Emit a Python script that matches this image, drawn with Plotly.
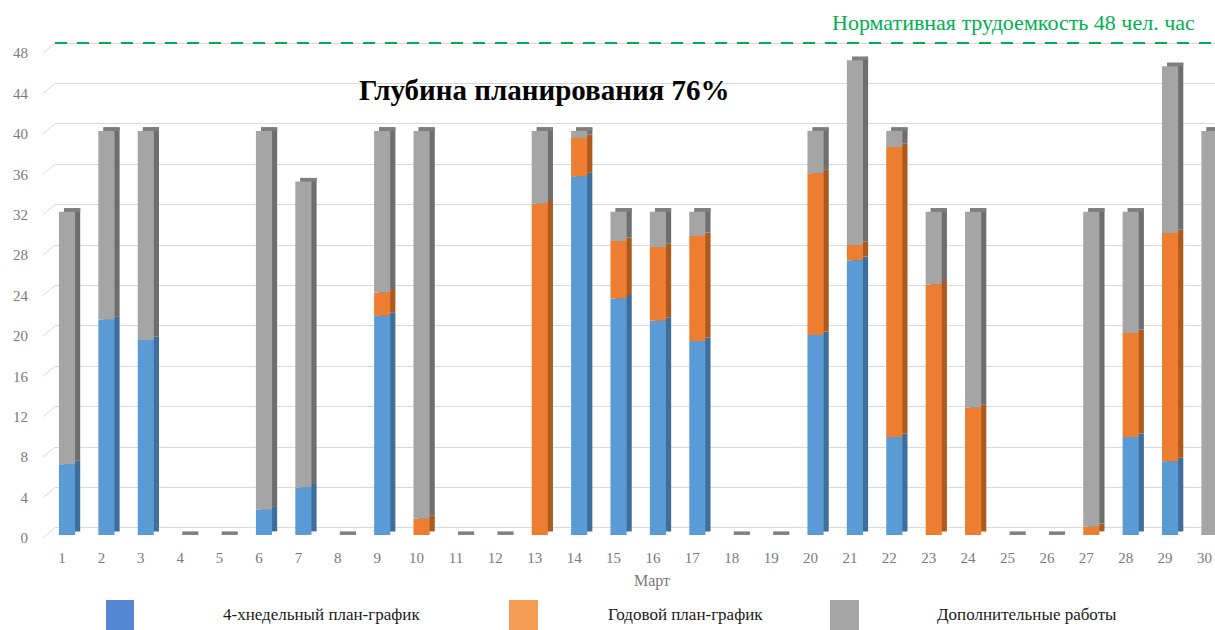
import plotly.graph_objects as go

# Daily labour hours in March, split by source of the work
days = list(range(1, 31))
four_week = [7, 21.3, 19.3, 0, 0, 2.5, 4.7, 0, 21.7, 0,
             0, 0, 0, 35.5, 23.4, 21.2, 19.2, 0, 0, 19.8,
             27.2, 9.7, 0, 0, 0, 0, 0, 9.7, 7.3, 0]
annual = [0, 0, 0, 0, 0, 0, 0, 0, 2.3, 1.6,
          0, 0, 32.8, 3.8, 5.7, 7.3, 10.4, 0, 0, 16,
          1.5, 28.7, 24.8, 12.6, 0, 0, 0.8, 10.3, 22.6, 0]
extra = [25, 18.7, 20.7, 0, 0, 37.5, 30.3, 0, 16, 38.4,
         0, 0, 7.2, 0.7, 2.9, 3.5, 2.4, 0, 0, 4.2,
         18.3, 1.6, 7.2, 19.4, 0, 0, 31.2, 12, 16.5, 40]
norm_hours = 48
y_ticks = list(range(0, 49, 4))

series_names = ["4-хнедельный план-график", "Годовой план-график", "Дополнительные работы"]
series_values = [four_week, annual, extra]
front_colors = ["#5B9BD5", "#ED7D31", "#A5A5A5"]
side_colors = ["#3D6E9C", "#AD5A1F", "#6E6E6E"]
legend_colors = ["#5486D4", "#F59D56", "#A5A5A5"]

BAR_W = 0.41     # width of the bar front face, in category units
DEPTH_X = 0.13   # horizontal depth of the pseudo-3D box
DEPTH_Y = 0.35   # vertical depth of the pseudo-3D box

# stacked bases
bases = []
running = [0.0] * len(days)
for vals in series_values:
    bases.append(list(running))
    running = [r + v for r, v in zip(running, vals)]
totals = running

fig = go.Figure()

# invisible trace that carries the grid axis (back wall of the 3D chart)
fig.add_trace(go.Scatter(x=[days[0]], y=[0], yaxis="y2", mode="markers",
                         marker=dict(opacity=0), hoverinfo="skip", showlegend=False))

# side faces: each segment shifted back and up
for vals, base, col in zip(series_values, bases, side_colors):
    fig.add_trace(go.Bar(
        x=days, y=vals, base=[b + DEPTH_Y for b in base],
        width=BAR_W, offset=-BAR_W / 2 + DEPTH_X,
        marker=dict(color=col, line=dict(width=0)),
        hoverinfo="skip", showlegend=False))

# top faces
fig.add_trace(go.Bar(
    x=days, y=[DEPTH_Y] * len(days), base=totals,
    width=BAR_W, offset=-BAR_W / 2 + DEPTH_X,
    marker=dict(color="#7F7F7F", line=dict(width=0)),
    hoverinfo="skip", showlegend=False))

# front faces
for name, vals, base, col in zip(series_names, series_values, bases, front_colors):
    fig.add_trace(go.Bar(
        x=days, y=vals, base=base, name=name,
        width=BAR_W, offset=-BAR_W / 2,
        marker=dict(color=col, line=dict(width=0)),
        showlegend=False))

PLOT_L, PLOT_R, PLOT_T, PLOT_B = 55, 1215, 40, 540


def px_x(p):
    return (p - PLOT_L) / (PLOT_R - PLOT_L)


def px_y(p):
    return (PLOT_B - p) / (PLOT_B - PLOT_T)


serif = "Liberation Serif"
tick_font = dict(family=serif, size=15, color="#7A7A7A")

shapes = []
# normative level line
shapes.append(dict(type="line", xref="paper", yref="y2", x0=0, x1=1,
                   y0=norm_hours, y1=norm_hours,
                   line=dict(color="#00B050", width=2, dash="12px,10px")))
# slanted floor ticks joining labels to the back wall grid
for v in y_ticks:
    shapes.append(dict(type="line", xref="paper", yref="y", xsizemode="pixel", xanchor=0,
                       x0=-12, x1=0, y0=v - 0.3, y1=v + 0.7,
                       line=dict(color="#D9D9D9", width=1)))


def label(text, x, y, size, color):
    return dict(text=text, xref="paper", yref="paper", x=px_x(x), y=px_y(y),
                xanchor="center", yanchor="middle", showarrow=False,
                font=dict(family=serif, size=size, color=color))


annotations = [
    label("<b>Глубина планирования 76%</b>", 544, 90, 29, "#000000"),
    label("Нормативная трудоемкость 48 чел. час", 1013, 23, 22, "#00B050"),
    label("Март", 652, 581, 16, "#7A7A7A"),
]

# legend: swatch + label per series
swatch_x = [(106, 134), (509, 538), (830, 859)]
label_x = [321, 685, 1027]
for name, col, (sx0, sx1), lx in zip(series_names, legend_colors, swatch_x, label_x):
    shapes.append(dict(type="rect", xref="paper", yref="paper",
                       x0=px_x(sx0), x1=px_x(sx1), y0=px_y(600), y1=px_y(634),
                       fillcolor=col, line=dict(width=0)))
    annotations.append(label(name, lx, 614, 17, "#1A1A1A"))

fig.update_layout(
    width=1215, height=630, autosize=False,
    margin=dict(l=PLOT_L, r=1215 - PLOT_R, t=PLOT_T, b=630 - PLOT_B),
    paper_bgcolor="white", plot_bgcolor="white",
    barmode="overlay", showlegend=False,
    xaxis=dict(range=[0.695, 30.14], tickmode="array", tickvals=days,
               ticktext=[str(d) for d in days], tickfont=tick_font,
               showgrid=False, zeroline=False, showline=False, ticks="",
               ticklabelshift=-5, ticklabelstandoff=7),
    yaxis=dict(range=[-0.5, 49.0], tickmode="array", tickvals=y_ticks,
               tickfont=tick_font, showgrid=False, zeroline=False, showline=False,
               ticks="", ticklabelstandoff=26, ticklabelshift=3),
    yaxis2=dict(range=[-1.2, 48.3], overlaying="y", side="left", tickmode="array",
                tickvals=y_ticks, showticklabels=False, showgrid=True,
                gridcolor="#D9D9D9", gridwidth=1, zeroline=False, showline=False),
    shapes=shapes,
    annotations=annotations,
)

fig.write_html("out.html")
